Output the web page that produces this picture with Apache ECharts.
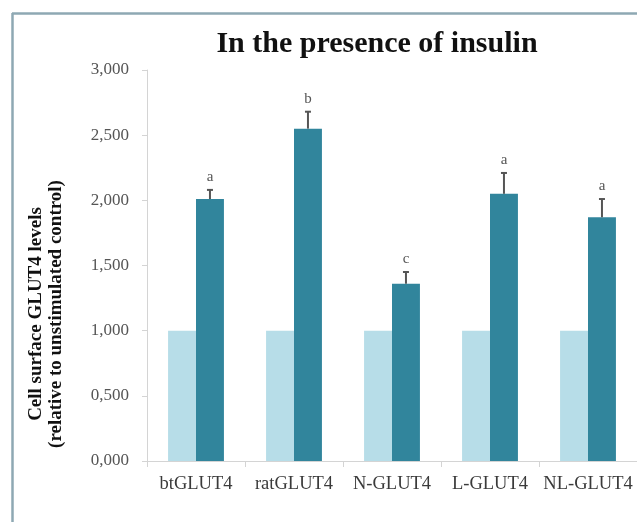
<!DOCTYPE html>
<html>
<head>
<meta charset="utf-8">
<script src="https://cdn.jsdelivr.net/npm/echarts@6/dist/echarts.min.js"></script>
<style>
html,body{margin:0;padding:0;background:#fff;}
#c{width:637px;height:522px;}
</style>
</head>
<body>
<div id="c"></div>
<script>
var categories = ['btGLUT4', 'ratGLUT4', 'N-GLUT4', 'L-GLUT4', 'NL-GLUT4'];
var controlValues = [1.0, 1.0, 1.0, 1.0, 1.0];
var insulinValues = [2.01, 2.55, 1.36, 2.05, 1.87];
var insulinErrors = [0.07, 0.13, 0.09, 0.16, 0.14];
var sigLetters = ['a', 'b', 'c', 'a', 'a'];
var yTicks = [0, 0.5, 1, 1.5, 2, 2.5, 3];

var SERIF = '"Liberation Serif", "DejaVu Serif", serif';
var BAR_FRAC = 0.285;

var errData = categories.map(function (c, i) {
  return [i, insulinValues[i], insulinErrors[i], sigLetters[i]];
});

var chart = echarts.init(document.getElementById('c'), null, {renderer: 'canvas'});
chart.setOption({
  animation: false,
  backgroundColor: '#ffffff',
  title: {
    text: 'In the presence of insulin',
    left: 372,
    top: 24,
    textAlign: 'center',
    textStyle: {fontFamily: SERIF, fontWeight: 'bold', fontSize: 30, color: '#111'}
  },
  graphic: [
    {type: 'line', shape: {x1: 12, y1: 13.5, x2: 637, y2: 13.5}, style: {stroke: '#8ea8b3', lineWidth: 2.5}, silent: true},
    {type: 'line', shape: {x1: 12.5, y1: 13, x2: 12.5, y2: 522}, style: {stroke: '#8ea8b3', lineWidth: 2.5}, silent: true},
    {
      type: 'text',
      x: 46, y: 314,
      rotation: Math.PI / 2,
      style: {
        text: 'Cell surface GLUT4 levels\n(relative to unstimulated control)',
        fontFamily: SERIF, fontWeight: 'bold', fontSize: 19, lineHeight: 20,
        fill: '#111', align: 'center', verticalAlign: 'middle'
      }
    }
  ],
  grid: {left: 147, top: 70, width: 492, height: 391, containLabel: false},
  xAxis: {
    type: 'category',
    data: categories,
    axisLine: {lineStyle: {color: '#d4d4d4', width: 1}},
    axisTick: {show: true, alignWithLabel: false, length: 6, lineStyle: {color: '#d4d4d4'}},
    axisLabel: {interval: 0, fontFamily: SERIF, fontSize: 18.5, color: '#3a3a3a', margin: 14}
  },
  yAxis: {
    type: 'value',
    min: 0, max: 3, interval: 0.5,
    axisLine: {show: true, lineStyle: {color: '#d4d4d4', width: 1}},
    axisTick: {show: true, length: 5, lineStyle: {color: '#d4d4d4'}},
    splitLine: {show: false},
    axisLabel: {
      fontFamily: SERIF, fontSize: 17, color: '#555', margin: 18,
      formatter: function (v) { return v.toFixed(3).replace('.', ','); }
    }
  },
  series: [
    {
      type: 'bar', name: 'Control', data: controlValues,
      barWidth: (BAR_FRAC * 100) + '%', barGap: '0%',
      itemStyle: {color: '#b7dde8'}
    },
    {
      type: 'bar', name: 'Insulin', data: insulinValues,
      barWidth: (BAR_FRAC * 100) + '%', barGap: '0%',
      itemStyle: {color: '#31859c'}
    },
    {
      type: 'custom', name: 'err', data: errData, z: 10,
      encode: {x: 0, y: 1},
      renderItem: function (params, api) {
        var idx = api.value(0);
        var val = api.value(1);
        var err = api.value(2);
        var band = api.size([1, 0])[0];
        var off = band * BAR_FRAC / 2;
        var p0 = api.coord([idx, val]);
        var p1 = api.coord([idx, val + err]);
        var x = p0[0] + off;
        var cap = 3;
        var stroke = {stroke: '#555', lineWidth: 2};
        return {
          type: 'group',
          children: [
            {type: 'line', shape: {x1: x, y1: p0[1], x2: x, y2: p1[1]}, style: stroke},
            {type: 'line', shape: {x1: x - cap, y1: p1[1], x2: x + cap, y2: p1[1]}, style: stroke},
            {type: 'text', style: {
              text: sigLetters[params.dataIndex], x: x, y: p1[1] - 5,
              align: 'center', verticalAlign: 'bottom',
              fontFamily: SERIF, fontSize: 15, fill: '#555'
            }}
          ]
        };
      }
    }
  ]
});
</script>
</body>
</html>
